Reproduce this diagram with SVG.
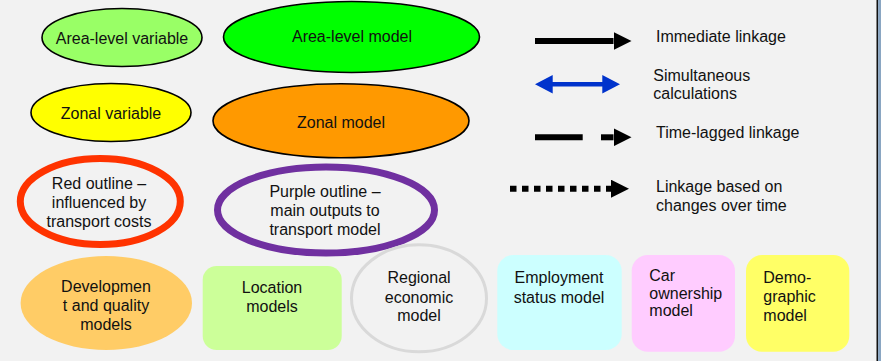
<svg xmlns="http://www.w3.org/2000/svg" width="881" height="361" viewBox="0 0 881 361">
  <style>
    text { font-family: "Liberation Sans", Arial, sans-serif; font-size: 16px; fill: #111; }
    .c { text-anchor: middle; }
    .thin { stroke: #000; stroke-width: 1.6; }
    .box { stroke: none; }
  </style>
  <defs>
    <marker id="head" viewBox="0 0 18 18" markerWidth="18" markerHeight="18" refX="0" refY="9" orient="auto" markerUnits="userSpaceOnUse">
      <path d="M0,0 L18,9 L0,18 Z" fill="#000"/>
    </marker>
  </defs>

  <!-- page -->
  <rect x="0" y="0" width="881" height="361" fill="#f2f2f2"/>
  <rect x="876.5" y="0" width="1.6" height="361" fill="#111"/>
  <rect x="878.1" y="0" width="2.9" height="361" fill="#8aa6c2"/>

  <!-- legend: node styles -->
  <g id="area-level-variable">
    <ellipse cx="122" cy="37.5" rx="80" ry="29" fill="#99ff66" class="thin"/>
    <text x="122" y="44" class="c">Area-level variable</text>
  </g>
  <g id="area-level-model">
    <ellipse cx="351.5" cy="37" rx="128" ry="35.5" fill="#00ff00" class="thin"/>
    <text x="352" y="42" class="c">Area-level model</text>
  </g>
  <g id="zonal-variable">
    <ellipse cx="111" cy="112.5" rx="80" ry="29" fill="#ffff00" class="thin"/>
    <text x="111" y="119" class="c">Zonal variable</text>
  </g>
  <g id="zonal-model">
    <ellipse cx="341" cy="120.7" rx="128" ry="37" fill="#ff9900" class="thin"/>
    <text x="341" y="128" class="c">Zonal model</text>
  </g>
  <g id="red-outline">
    <ellipse cx="100.3" cy="201.5" rx="80" ry="43" fill="none" stroke="#ff3300" stroke-width="7"/>
    <text x="99" y="189" class="c">Red outline –</text>
    <text x="99" y="208" class="c">influenced by</text>
    <text x="99" y="227" class="c">transport costs</text>
  </g>
  <g id="purple-outline">
    <ellipse cx="326" cy="210" rx="108.5" ry="43" fill="none" stroke="#7030a0" stroke-width="7"/>
    <text x="325" y="197" class="c">Purple outline –</text>
    <text x="325" y="216" class="c">main outputs to</text>
    <text x="325" y="235" class="c">transport model</text>
  </g>

  <!-- model blocks -->
  <g id="development-models">
    <ellipse cx="106.3" cy="303" rx="85.7" ry="47" fill="#ffcc66"/>
    <text x="106" y="292" class="c">Developmen</text>
    <text x="106" y="310.5" class="c">t and quality</text>
    <text x="106" y="329.5" class="c">models</text>
  </g>
  <g id="location-models">
    <rect x="202.7" y="266" width="139" height="84" rx="14" fill="#ccff99" class="box"/>
    <text x="272" y="293" class="c">Location</text>
    <text x="272" y="312" class="c">models</text>
  </g>
  <g id="regional-economic-model">
    <ellipse cx="419" cy="298.3" rx="67.5" ry="53.5" fill="none" stroke="#d9d9d9" stroke-width="3"/>
    <text x="419" y="283" class="c">Regional</text>
    <text x="419" y="302.5" class="c">economic</text>
    <text x="419" y="321" class="c">model</text>
  </g>
  <g id="employment-status-model">
    <rect x="497.3" y="255" width="124.4" height="95" rx="16" fill="#ccffff" class="box"/>
    <text x="559" y="283" class="c">Employment</text>
    <text x="559" y="302.5" class="c">status model</text>
  </g>
  <g id="car-ownership-model">
    <rect x="631.7" y="255" width="103.3" height="96.7" rx="16" fill="#ffccff" class="box"/>
    <text x="649.3" y="281">Car</text>
    <text x="649.3" y="298.5">ownership</text>
    <text x="649.3" y="316">model</text>
  </g>
  <g id="demographic-model">
    <rect x="746" y="255" width="103.3" height="96.7" rx="16" fill="#ffff66" class="box"/>
    <text x="763.3" y="283">Demo-</text>
    <text x="763.3" y="302">graphic</text>
    <text x="763.3" y="321">model</text>
  </g>

  <!-- legend: connector styles -->
  <g id="connectors">
    <line x1="535" y1="41" x2="613.5" y2="41" stroke="#000" stroke-width="6" marker-end="url(#head)"/>
    <path d="M535,84.3 L552.7,75 L552.7,82 L602.3,82 L602.3,75 L620,84.3 L602.3,93.5 L602.3,86.6 L552.7,86.6 L552.7,93.5 Z" fill="#0033cc"/>
    <line x1="535" y1="137.3" x2="582.7" y2="137.3" stroke="#000" stroke-width="6"/>
    <line x1="601" y1="137.3" x2="613.5" y2="137.3" stroke="#000" stroke-width="6" marker-end="url(#head)"/>
    <line x1="510" y1="188.7" x2="611" y2="188.7" stroke="#000" stroke-width="6" stroke-dasharray="6.5 5.5" marker-end="url(#head)"/>
  </g>
  <g id="legend-labels">
    <text x="656" y="42.3">Immediate linkage</text>
    <text x="653.3" y="81">Simultaneous</text>
    <text x="653.3" y="99.3">calculations</text>
    <text x="656" y="138.3">Time-lagged linkage</text>
    <text x="656" y="191.7">Linkage based on</text>
    <text x="656" y="210.7">changes over time</text>
  </g>
</svg>
